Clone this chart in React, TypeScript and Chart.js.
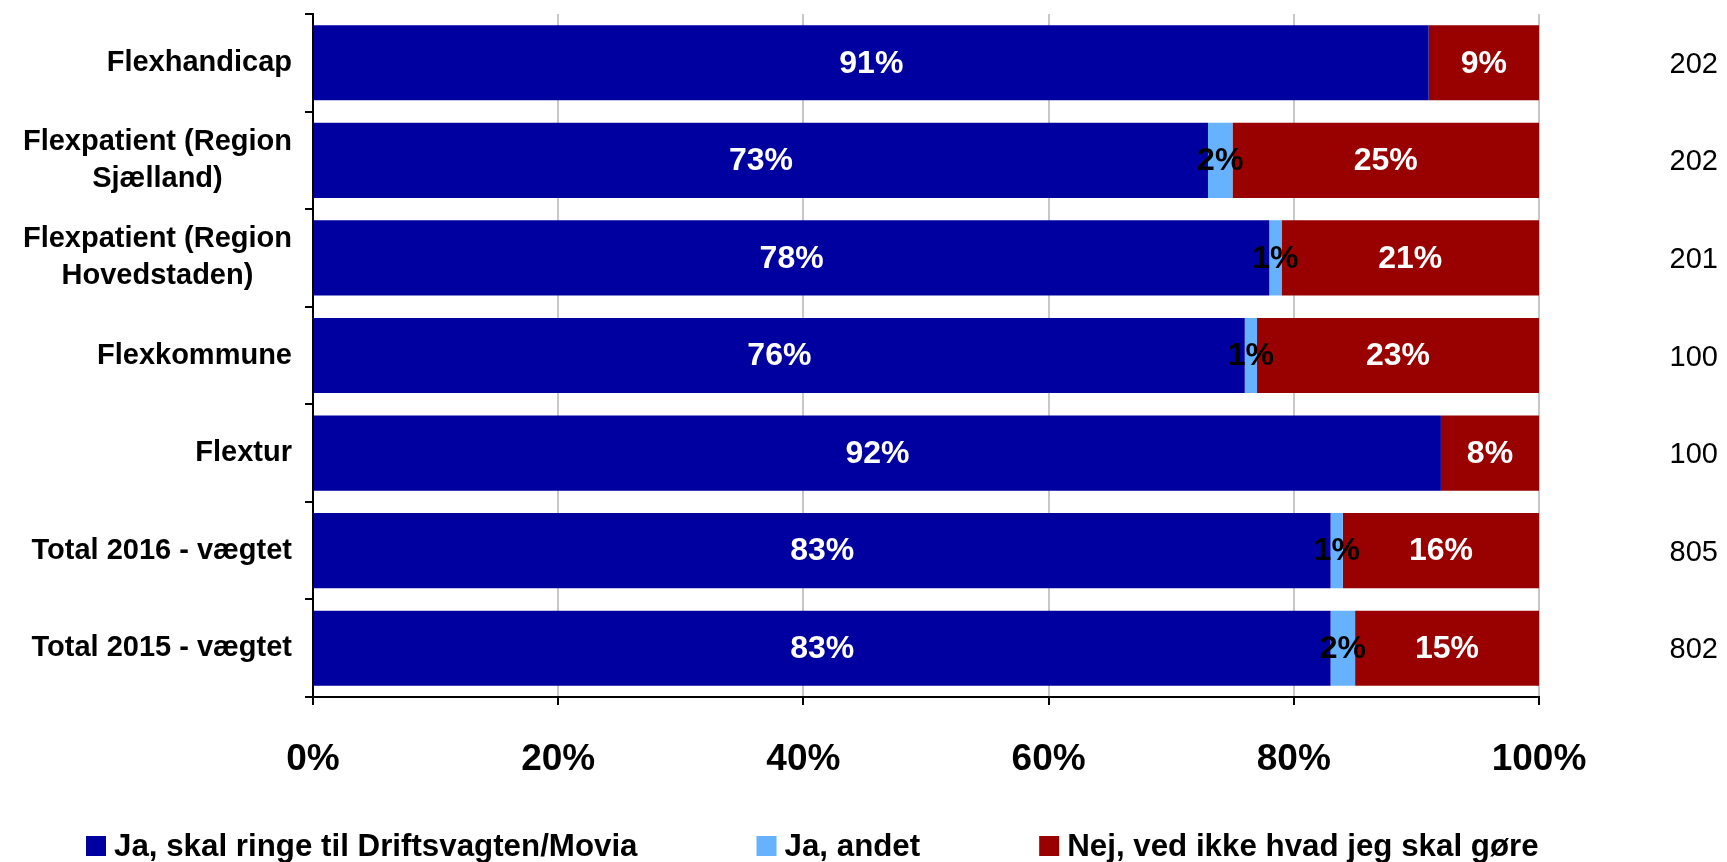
import React, { useEffect, useRef } from 'react';
import { Chart, registerables } from 'chart.js';

Chart.register(...registerables);

const FONT = '"Liberation Sans", Arial, Helvetica, sans-serif';

const categories: string[][] = [
  ['Flexhandicap'],
  ['Flexpatient (Region', 'Sjælland)'],
  ['Flexpatient (Region', 'Hovedstaden)'],
  ['Flexkommune'],
  ['Flextur'],
  ['Total 2016 - vægtet'],
  ['Total 2015 - vægtet'],
];
const seriesNames = [
  'Ja, skal ringe til Driftsvagten/Movia',
  'Ja, andet',
  'Nej, ved ikke hvad jeg skal gøre',
];
const jaRinge = [91, 73, 78, 76, 92, 83, 83];
const jaAndet = [0, 2, 1, 1, 0, 1, 2];
const nej = [9, 25, 21, 23, 8, 16, 15];
const counts = ['202', '202', '201', '100', '100', '805', '802'];
const seriesColors = ['#0000A0', '#66B2FF', '#990000'];
const labelColors = ['#FFFFFF', '#000000', '#FFFFFF'];

const categoryLabelPlugin = {
  id: 'categoryLabels',
  afterDraw(chart: any) {
    const ctx = chart.ctx;
    const yScale = chart.scales.y;
    const area = chart.chartArea;
    ctx.save();
    ctx.font = `bold 29px ${FONT}`;
    ctx.fillStyle = '#000';
    ctx.textBaseline = 'middle';
    ctx.textAlign = 'center';
    const right = area.left - 21;
    const lh = 37;
    categories.forEach((lines, i) => {
      const cy = yScale.getPixelForTick(i);
      const maxW = Math.max(...lines.map((l) => ctx.measureText(l).width));
      const cx = right - maxW / 2;
      lines.forEach((l, k) => {
        ctx.fillText(l, cx, cy + (k - (lines.length - 1) / 2) * lh);
      });
    });
    // counts on the right
    ctx.font = `29px ${FONT}`;
    ctx.textAlign = 'right';
    counts.forEach((c, i) => {
      const cy = yScale.getPixelForTick(i);
      ctx.fillText(c, chart.width - 9, cy + 2);
    });
    ctx.restore();
  },
};

const dataLabelPlugin = {
  id: 'dataLabels',
  afterDatasetsDraw(chart: any) {
    const ctx = chart.ctx;
    ctx.save();
    ctx.font = `bold 32px ${FONT}`;
    ctx.textAlign = 'center';
    ctx.textBaseline = 'middle';
    chart.data.datasets.forEach((ds: any, di: number) => {
      const meta = chart.getDatasetMeta(di);
      meta.data.forEach((el: any, j: number) => {
        const v = ds.data[j];
        if (!v) return;
        const cx = (el.x + el.base) / 2;
        ctx.fillStyle = labelColors[di];
        ctx.fillText(v + '%', cx, el.y + 1);
      });
    });
    ctx.restore();
  },
};

const legendPlugin = {
  id: 'customLegend',
  afterDraw(chart: any) {
    const ctx = chart.ctx;
    ctx.save();
    ctx.font = `bold 31.3px ${FONT}`;
    ctx.textBaseline = 'middle';
    ctx.textAlign = 'left';
    let x = 86;
    const cy = 846;
    chart.data.datasets.forEach((ds: any) => {
      ctx.fillStyle = ds.backgroundColor;
      ctx.fillRect(x, cy - 10, 20, 20);
      ctx.fillStyle = '#000';
      const tx = x + 28;
      ctx.fillText(ds.label, tx, cy + 1);
      x = tx + ctx.measureText(ds.label).width + 119;
    });
    ctx.restore();
  },
};

export default function App() {
  const ref = useRef<HTMLCanvasElement>(null);
  useEffect(() => {
    if (!ref.current) return;
    const chart = new Chart(ref.current, {
      type: 'bar',
      data: {
        labels: categories as any,
        datasets: [jaRinge, jaAndet, nej].map((d, i) => ({
          label: seriesNames[i],
          data: d,
          backgroundColor: seriesColors[i],
          borderWidth: 0,
          barPercentage: 0.77,
          categoryPercentage: 1,
        })),
      },
      options: {
        indexAxis: 'y',
        responsive: false,
        animation: false,
        layout: { padding: { left: 0, top: 14, right: 188, bottom: 0 } },
        plugins: {
          legend: { display: false },
          tooltip: { enabled: false },
        },
        scales: {
          x: {
            stacked: true,
            min: 0,
            max: 100,
            afterFit: (s: any) => {
              s.height = 165;
            },
            ticks: {
              stepSize: 20,
              callback: (v: any) => v + '%',
              color: '#000',
              font: { family: FONT, size: 37, weight: 'bold' },
              padding: 33,
              maxRotation: 0,
            },
            grid: {
              color: '#C8C8C8',
              lineWidth: 2,
              tickColor: '#000',
              tickLength: 8,
              tickWidth: 2,
            },
            border: { display: true, color: '#000', width: 2 },
          },
          y: {
            stacked: true,
            afterFit: (s: any) => {
              s.width = 313;
            },
            ticks: { display: false },
            grid: {
              drawOnChartArea: false,
              color: '#000',
              tickLength: 8,
              lineWidth: 2,
              offset: true,
            },
            border: { display: true, color: '#000', width: 2 },
          },
        },
      } as any,
      plugins: [categoryLabelPlugin, dataLabelPlugin, legendPlugin],
    });
    return () => chart.destroy();
  }, []);
  return (
    <div style={{ position: 'fixed', left: 0, top: 0, width: 1727, height: 862, background: '#fff' }}>
      <canvas ref={ref} width={1727} height={862} />
    </div>
  );
}
